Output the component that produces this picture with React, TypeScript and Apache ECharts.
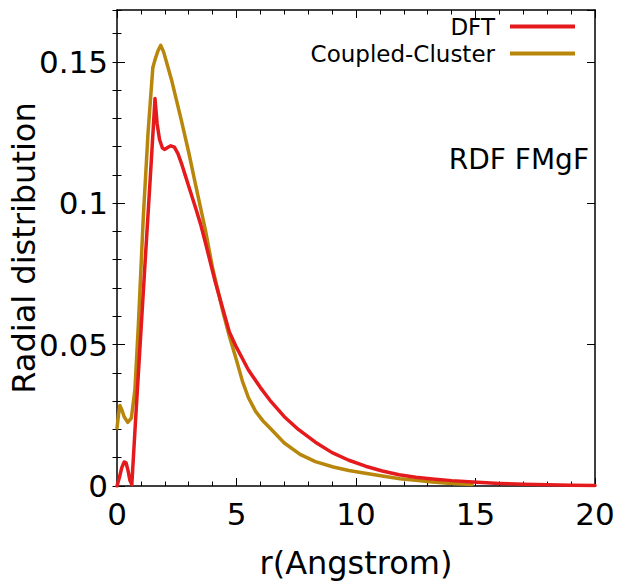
import React, { useEffect, useRef } from "react";
import * as echarts from "echarts";

const dftR = [0, 0.1, 0.2, 0.3, 0.38, 0.46, 0.54, 0.62, 0.8, 1.0, 1.2, 1.4, 1.59, 1.68, 1.78, 1.9, 2.0, 2.12, 2.25, 2.4, 2.55, 2.7, 2.85, 3.0, 3.3, 3.5, 3.7, 4.1, 4.4, 4.7, 5.0, 5.5, 6.0, 6.4, 7.0, 7.6, 8.3, 9.0, 9.7, 10.4, 11.1, 11.8, 12.5, 13.2, 14.0, 14.9, 16, 17, 18, 19, 20];
const dftV = [0, 0.003, 0.0065, 0.0085, 0.0082, 0.0055, 0.002, 0.0005, 0.0266, 0.0545, 0.0825, 0.11, 0.137, 0.128, 0.1225, 0.1195, 0.119, 0.1197, 0.1203, 0.1198, 0.1175, 0.114, 0.11, 0.106, 0.098, 0.0925, 0.086, 0.0725, 0.0635, 0.0545, 0.049, 0.041, 0.0348, 0.0303, 0.0245, 0.0199, 0.0155, 0.0118, 0.0091, 0.007, 0.0053, 0.004, 0.0031, 0.0025, 0.0019, 0.0014, 0.0009, 0.0006, 0.0004, 0.0003, 0.0002];

const ccR = [0, 0.06, 0.12, 0.2, 0.3, 0.45, 0.6, 0.75, 0.9, 1.1, 1.3, 1.5, 1.6, 1.72, 1.83, 1.95, 2.1, 2.3, 2.5, 2.7, 3.0, 3.3, 3.7, 4.0, 4.45, 4.7, 5.0, 5.25, 5.5, 5.8, 6.1, 6.4, 7.0, 7.66, 8.3, 9.05, 9.7, 10.45, 11.1, 11.84, 12.5, 13.2, 14.0, 14.85];
const ccV = [0.0205, 0.025, 0.0285, 0.027, 0.0245, 0.0225, 0.024, 0.034, 0.058, 0.095, 0.125, 0.148, 0.151, 0.154, 0.1558, 0.1535, 0.149, 0.143, 0.136, 0.129, 0.118, 0.106, 0.0905, 0.077, 0.061, 0.053, 0.0445, 0.037, 0.0312, 0.0264, 0.0231, 0.0205, 0.0152, 0.0112, 0.0086, 0.0067, 0.0055, 0.0044, 0.0035, 0.0026, 0.002, 0.0014, 0.0009, 0.0005];

const seriesNames = ["DFT", "Coupled-Cluster"];
const seriesColors = ["#e41a1c", "#b8860b"];
const xTickValues = [0, 5, 10, 15, 20];
const yMajor = 0.05;
const yMinor = 0.01;
const yMax = 0.1683;
const FONT = "DejaVu Sans";

export default function App() {
  const ref = useRef<HTMLDivElement>(null);
  useEffect(() => {
    if (!ref.current) return;
    const chart = echarts.init(ref.current, undefined, { renderer: "svg" });
    const axisLine = { show: true, onZero: false, lineStyle: { color: "#000", width: 1.5 } };
    const xBase = { type: "value", min: xTickValues[0], max: xTickValues[xTickValues.length - 1], interval: 5, splitLine: { show: false } };
    const yBase = { type: "value", min: 0, max: yMax, splitLine: { show: false } };
    chart.setOption({
      animation: false,
      grid: { left: 117, right: 28, top: 10, bottom: 95, containLabel: false, outerBoundsMode: "none" },
      legend: {
        right: 43,
        top: 10,
        orient: "vertical",
        align: "right",
        icon: "rect",
        itemWidth: 65,
        itemHeight: 4,
        itemGap: 4,
        textStyle: { fontFamily: FONT, fontSize: 23, color: "#000", lineHeight: 23, padding: [0, 10, 0, 0] },
        data: seriesNames,
      },
      xAxis: [
        {
          ...xBase,
          position: "bottom",
          axisLine,
          axisTick: { show: true, inside: true, length: 8, lineStyle: { color: "#000", width: 1 } },
          minorTick: { show: true, splitNumber: 5, length: 4.5, lineStyle: { color: "#000", width: 1 } },
          axisLabel: { fontFamily: FONT, fontSize: 31, color: "#000", margin: 12 },
          name: "r(Angstrom)",
          nameLocation: "middle",
          nameGap: 61,
          nameTextStyle: { fontFamily: FONT, fontSize: 32, color: "#000" },
        },
        {
          ...xBase,
          position: "top",
          axisLine,
          axisTick: { show: true, inside: true, length: 8, lineStyle: { color: "#000", width: 1 } },
          minorTick: { show: true, splitNumber: 5, length: 4.5, lineStyle: { color: "#000", width: 1 } },
          axisLabel: { show: false },
        },
      ],
      yAxis: [
        {
          ...yBase,
          interval: yMajor,
          position: "left",
          axisLine,
          axisTick: { show: true, inside: true, length: 8, lineStyle: { color: "#000", width: 1 } },
          axisLabel: { fontFamily: FONT, fontSize: 31, color: "#000", margin: 9, showMaxLabel: false },
          name: "Radial distribution",
          nameLocation: "middle",
          nameGap: 77,
          nameMoveOverlap: false,
          nameTextStyle: { fontFamily: FONT, fontSize: 32, color: "#000" },
        },
        {
          ...yBase,
          interval: yMinor,
          position: "left",
          axisLine: { show: false },
          axisTick: { show: true, inside: true, length: 4.5, lineStyle: { color: "#000", width: 1 } },
          axisLabel: { show: false },
        },
        {
          ...yBase,
          interval: yMajor,
          position: "right",
          axisLine,
          axisTick: { show: true, inside: true, length: 8, lineStyle: { color: "#000", width: 1 } },
          axisLabel: { show: false },
        },
        {
          ...yBase,
          interval: yMinor,
          position: "right",
          axisLine: { show: false },
          axisTick: { show: true, inside: true, length: 4.5, lineStyle: { color: "#000", width: 1 } },
          axisLabel: { show: false },
        },
      ],
      graphic: [
        {
          type: "text",
          right: 34,
          top: 145,
          style: { text: "RDF FMgF", fontFamily: FONT, fontSize: 28, fill: "#000" },
        },
      ],
      series: [
        {
          name: seriesNames[0],
          type: "line",
          xAxisIndex: 0,
          yAxisIndex: 0,
          data: dftR.map((r, i) => [r, dftV[i]]),
          showSymbol: false,
          smooth: false,
          lineStyle: { color: seriesColors[0], width: 3.5, join: "round", cap: "round" },
          itemStyle: { color: seriesColors[0] },
          z: 3,
        },
        {
          name: seriesNames[1],
          type: "line",
          xAxisIndex: 0,
          yAxisIndex: 0,
          data: ccR.map((r, i) => [r, ccV[i]]),
          showSymbol: false,
          smooth: false,
          lineStyle: { color: seriesColors[1], width: 3.5, join: "round", cap: "round" },
          itemStyle: { color: seriesColors[1] },
          z: 2,
        },
      ],
    });
    return () => chart.dispose();
  }, []);
  return <div ref={ref} style={{ position: "absolute", left: 0, top: 0, width: 623, height: 581 }} />;
}
